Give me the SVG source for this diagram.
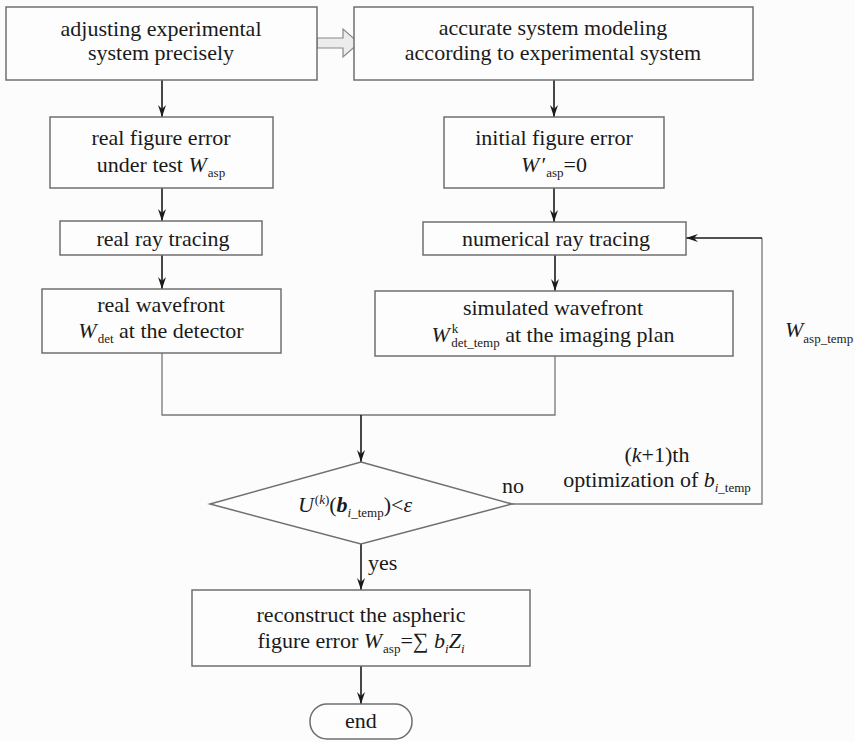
<svg xmlns="http://www.w3.org/2000/svg" width="855" height="742" viewBox="0 0 855 742">
<style>
.box{fill:#fdfdfd;stroke:#6f6f6f;stroke-width:1.5}
.t{font-family:'Liberation Serif','DejaVu Serif',serif;font-size:22px;fill:#1a1a1a}
.c{text-anchor:middle}
.i{font-style:italic}
.s{font-size:13px}
.arr{fill:none;stroke:#1a1a1a;stroke-width:1.6;marker-end:url(#ah)}
.ln{fill:none;stroke:#777;stroke-width:1.3}
</style>
<defs>
<marker id="ah" markerUnits="userSpaceOnUse" viewBox="0 0 12 8" refX="12" refY="4" markerWidth="12" markerHeight="8" orient="auto">
<path d="M0,0 L12,4 L0,8 L4,4 z" fill="#1a1a1a"/>
</marker>
</defs>
<rect width="855" height="742" fill="#fcfcfc"/>
<g id="connectors">
<polygon points="317,38 343,38 343,29 359,43 343,57 343,48 317,48" fill="#ececec" stroke="#888" stroke-width="1.2"/>
<line class="arr" x1="162" y1="80" x2="162" y2="117"/>
<line class="arr" x1="554" y1="80" x2="554" y2="117"/>
<line class="arr" x1="162" y1="188" x2="162" y2="221"/>
<line class="arr" x1="554" y1="188" x2="554" y2="222"/>
<line class="arr" x1="162" y1="255" x2="162" y2="289"/>
<line class="arr" x1="555" y1="255" x2="555" y2="291"/>
<polyline class="ln" points="162,353 162,415 555,415 555,356"/>
<line class="arr" x1="361" y1="415" x2="361" y2="462"/>
<polyline class="ln" points="512,504 762,504 762,238"/>
<line class="arr" x1="762" y1="238" x2="686" y2="238"/>
<line class="arr" x1="361" y1="544" x2="361" y2="590"/>
<line class="arr" x1="361" y1="666" x2="361" y2="704"/>
<text class="t" x="502" y="493">no</text>
<text class="t" x="368" y="570">yes</text>
<text class="t c" x="657" y="462">(<tspan class="i">k</tspan>+1)th</text>
<text class="t c" x="657" y="487">optimization of <tspan class="i">b</tspan><tspan class="s" dy="5"><tspan class="i">i</tspan>_temp</tspan></text>
<text class="t" x="785" y="337"><tspan class="i">W</tspan><tspan class="s" dy="6">asp_temp</tspan></text>
</g>
<g id="n1">
<rect class="box" x="6" y="7" width="311" height="73"/>
<text class="t c" x="161" y="36">adjusting experimental</text>
<text class="t c" x="161" y="60">system precisely</text>
</g>
<g id="n2">
<rect class="box" x="354" y="7" width="399" height="73"/>
<text class="t c" x="553" y="35">accurate system modeling</text>
<text class="t c" x="553" y="60">according to experimental system</text>
</g>
<g id="n3">
<rect class="box" x="50" y="117" width="223" height="71"/>
<text class="t c" x="161" y="145">real figure error</text>
<text class="t c" x="161" y="172">under test <tspan class="i">W</tspan><tspan class="s" dx="1" dy="5">asp</tspan></text>
</g>
<g id="n4">
<rect class="box" x="444" y="117" width="220" height="71"/>
<text class="t c" x="554" y="145">initial figure error</text>
<text class="t c" x="554" y="172"><tspan class="i">W</tspan><tspan dx="2">′</tspan><tspan class="s" dy="5">asp</tspan><tspan dy="-5">=0</tspan></text>
</g>
<g id="n5">
<rect class="box" x="60" y="221" width="202" height="34"/>
<text class="t c" x="163" y="246">real ray tracing</text>
</g>
<g id="n6">
<rect class="box" x="42" y="289" width="239" height="64"/>
<text class="t c" x="161" y="312">real wavefront</text>
<text class="t c" x="161" y="338"><tspan class="i">W</tspan><tspan class="s" dx="1" dy="5">det</tspan><tspan dy="-5"> at the detector</tspan></text>
</g>
<g id="n7">
<rect class="box" x="423" y="222" width="263" height="33"/>
<text class="t c" x="556" y="246">numerical ray tracing</text>
</g>
<g id="n8">
<rect class="box" x="375" y="291" width="358" height="65"/>
<text class="t c" x="553" y="315">simulated wavefront</text>
<text class="t c" x="553" y="342"><tspan class="i">W</tspan><tspan class="s" dx="2" dy="-9">k</tspan><tspan class="s" dx="-7" dy="14">det_temp</tspan><tspan dy="-5"> at the imaging plan</tspan></text>
</g>
<g id="n9">
<polygon class="box" points="361,462 512,504 361,544 210,504"/>
<text class="t c" x="355" y="512"><tspan class="i">U</tspan><tspan class="s" dx="1" dy="-8">(<tspan class="i">k</tspan>)</tspan><tspan dy="8">(</tspan><tspan class="i" font-weight="bold">b</tspan><tspan class="s" dy="5"><tspan class="i">i</tspan>_temp</tspan><tspan dy="-5">)&lt;</tspan><tspan class="i">ε</tspan></text>
</g>
<g id="n10">
<rect class="box" x="192" y="590" width="338" height="76"/>
<text class="t c" x="361" y="622">reconstruct the aspheric</text>
<text class="t c" x="361" y="648">figure error <tspan class="i">W</tspan><tspan class="s" dx="1" dy="5">asp</tspan><tspan dy="-5">=∑ </tspan><tspan class="i">b</tspan><tspan class="s i" dy="5">i</tspan><tspan class="i" dy="-5">Z</tspan><tspan class="s i" dy="5">i</tspan></text>
</g>
<g id="n11">
<rect class="box" x="310" y="704" width="102" height="35" rx="17" ry="17"/>
<text class="t c" x="361" y="728">end</text>
</g>
</svg>
